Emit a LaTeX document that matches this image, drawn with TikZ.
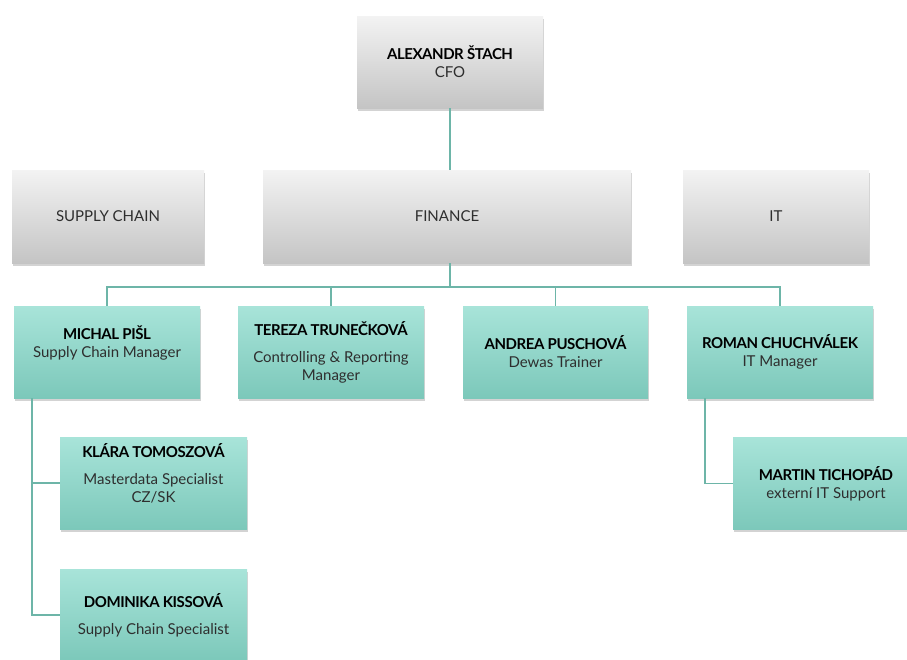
\documentclass[tikz,border=0pt]{standalone}
\usepackage{fontspec}
\setmainfont{Lato}
\newfontfamily\namefont[LetterSpace=-3.0]{Lato}
\usetikzlibrary{shadows}
\definecolor{graytop}{HTML}{F3F3F3}
\definecolor{graybot}{HTML}{C4C4C4}
\definecolor{tealtop}{HTML}{A8E4D9}
\definecolor{tealbot}{HTML}{7CC8BA}
\definecolor{linkcol}{HTML}{6DB5A8}
\definecolor{subcol}{HTML}{2E2E2E}
\newcommand{\who}[1]{{\namefont\bfseries\color{black}#1}}

\begin{document}
\begin{tikzpicture}[x=1pt,y=-1pt,
    box/.style={minimum width=186pt,minimum height=92pt,inner sep=0pt,align=center,
      text=subcol,font=\fontsize{15}{18}\selectfont,
      drop shadow={opacity=0.35,shadow xshift=1.2pt,shadow yshift=-2.5pt}},
    graybox/.style={box,top color=graytop,bottom color=graybot},
    tealbox/.style={box,top color=tealtop,bottom color=tealbot},
    link/.style={draw=linkcol,line width=1.6pt}]
  \useasboundingbox (0,0) rectangle (907,659);
  \node[graybox] (cfo) at (450,62) {\who{ALEXANDR ŠTACH}\\CFO};
  \node[graybox,minimum width=192pt,minimum height=93pt] (supply) at (108,216.5) {SUPPLY CHAIN};
  \node[graybox,minimum width=368pt,minimum height=93pt] (fin) at (447,216.5) {FINANCE};
  \node[graybox,minimum height=93pt] (it) at (776,216.5) {IT};
  \node[tealbox] (michal) at (107,352) {\who{MICHAL PIŠL}\\Supply Chain Manager\\[2pt]\mbox{}};
  \node[tealbox] (tereza) at (331,352) {\who{TEREZA TRUNEČKOVÁ}\\[9pt]Controlling \& Reporting\\Manager};
  \node[tealbox,minimum width=185pt] (andrea) at (555.5,352) {\who{ANDREA PUSCHOVÁ}\\Dewas Trainer};
  \node[tealbox] (roman) at (780,352) {\who{ROMAN CHUCHVÁLEK}\\IT Manager};
  \node[tealbox,minimum width=187pt] (klara) at (153.5,483) {\who{KLÁRA TOMOSZOVÁ}\\[9pt]Masterdata Specialist\\CZ/SK\\[2pt]\mbox{}};
  \node[tealbox,minimum width=187pt] (dominika) at (153.5,615) {\who{DOMINIKA KISSOVÁ}\\[9pt]Supply Chain Specialist};
  \node[tealbox] (martin) at (826,483.5) {\who{MARTIN TICHOPÁD}\\externí IT Support};
  \coordinate (bus) at (450,287);
  \draw[link] (cfo.south) -- (cfo.south |- fin.north);
  \foreach \n in {michal,tereza,andrea,roman}
    \draw[link] (fin.south -| bus) -- (bus) -| (\n.north);
  \draw[link] ([xshift=18pt]michal.south west) |- (klara.west);
  \draw[link] ([xshift=18pt]michal.south west) |- (dominika.west);
  \draw[link] ([xshift=18pt]roman.south west) |- (martin.west);
\end{tikzpicture}
\end{document}
